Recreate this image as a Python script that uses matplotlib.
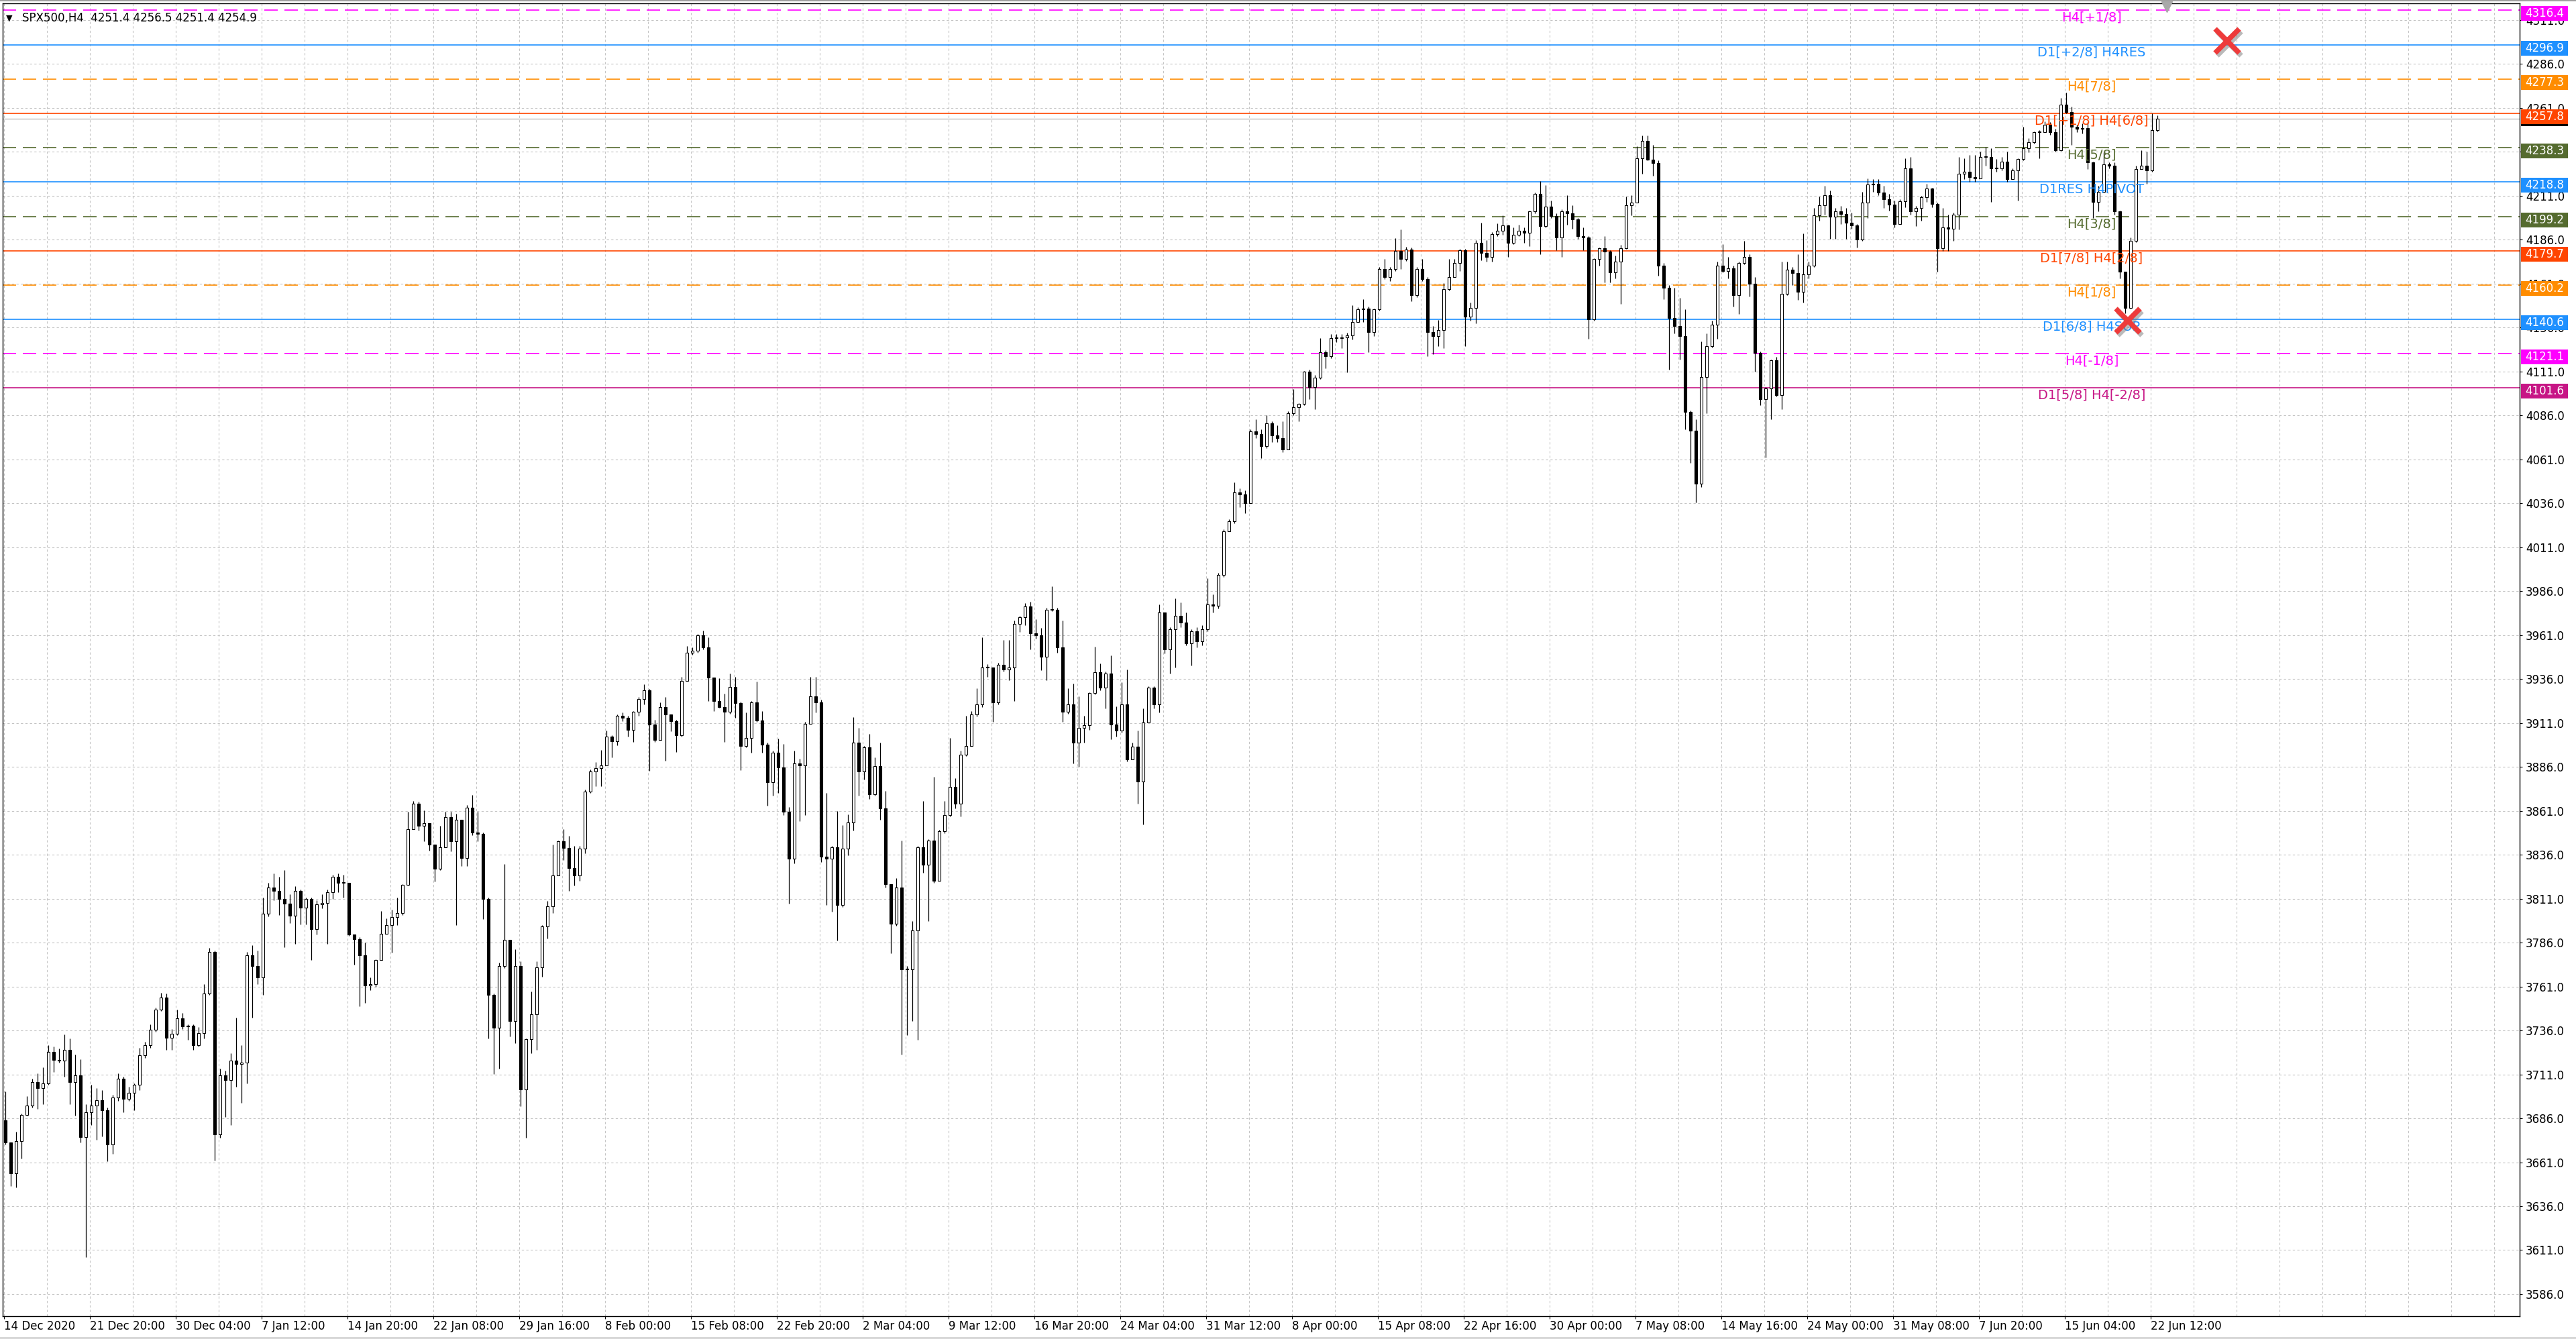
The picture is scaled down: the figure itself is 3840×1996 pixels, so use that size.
import matplotlib
matplotlib.use("Agg")
import matplotlib.pyplot as plt
import matplotlib.transforms as mtransforms
import matplotlib.patheffects as pe
from matplotlib.patches import Rectangle
import numpy as np

# SPX500 H4 chart, one candle here = two H4 bars
first_open = 3684.9

close = [
    3672.1, 3654.8, 3673.0, 3688.0, 3693.1, 3706.8, 3703.1, 3705.9, 3723.8, 3719.2,
    3718.7, 3725.0, 3706.8, 3710.4, 3675.2, 3689.5, 3693.1, 3696.2, 3690.4, 3671.2,
    3698.0, 3708.6, 3697.1, 3700.4, 3705.0, 3721.8, 3727.8, 3736.4, 3747.9, 3754.8,
    3731.8, 3734.2, 3742.7, 3738.2, 3738.7, 3727.8, 3734.5, 3757.0, 3780.7, 3676.7,
    3710.4, 3707.7, 3718.7, 3716.8, 3717.7, 3778.9, 3772.5, 3766.1, 3802.6, 3817.2,
    3815.4, 3810.8, 3808.1, 3801.1, 3815.4, 3805.7, 3810.8, 3793.5, 3807.7, 3808.4,
    3814.5, 3823.6, 3819.9, 3819.9, 3790.7, 3788.0, 3778.9, 3761.5, 3762.4, 3776.1,
    3791.1, 3796.0, 3800.4, 3802.8, 3818.8, 3850.5, 3865.2, 3852.5, 3854.0, 3841.8,
    3828.1, 3840.2, 3857.4, 3843.7, 3855.8, 3834.0, 3862.6, 3848.6, 3848.0, 3811.0,
    3756.4, 3737.5, 3772.6, 3787.6, 3741.4, 3772.6, 3702.4, 3731.1, 3745.3, 3772.0,
    3795.0, 3806.7, 3824.2, 3843.7, 3839.8, 3828.5, 3824.2, 3839.4, 3872.0, 3883.3,
    3885.2, 3886.6, 3903.2, 3900.6, 3914.9, 3913.9, 3907.1, 3917.4, 3924.6, 3929.5,
    3910.0, 3901.2, 3920.1, 3915.8, 3911.9, 3904.1, 3934.9, 3950.9, 3952.1, 3960.7,
    3953.8, 3936.9, 3923.6, 3920.1, 3917.4, 3931.4, 3922.1, 3897.8, 3902.4, 3922.5,
    3912.5, 3898.7, 3877.2, 3894.2, 3885.6, 3860.3, 3833.8, 3887.8, 3886.8, 3910.6,
    3926.2, 3922.5, 3834.7, 3833.8, 3840.2, 3807.3, 3839.3, 3854.3, 3899.6, 3883.2,
    3896.9, 3870.4, 3886.5, 3862.2, 3819.2, 3796.7, 3817.3, 3770.7, 3770.7, 3793.0,
    3840.2, 3830.2, 3843.9, 3821.0, 3849.4, 3858.5, 3874.6, 3864.9, 3892.7, 3897.8,
    3915.7, 3921.6, 3942.6, 3942.6, 3922.5, 3944.1, 3941.2, 3942.6, 3967.3, 3971.0,
    3977.4, 3961.8, 3960.9, 3948.5, 3975.2, 3975.5, 3954.0, 3917.4, 3921.6, 3899.6,
    3908.2, 3909.7, 3928.0, 3939.9, 3930.9, 3939.0, 3910.0, 3906.6, 3921.6, 3890.3,
    3897.3, 3877.6, 3911.2, 3930.9, 3921.6, 3973.7, 3952.9, 3964.4, 3971.8, 3967.9,
    3956.3, 3963.3, 3957.5, 3964.4, 3978.3, 3977.6, 3995.0, 4020.0, 4025.8, 4042.0,
    4040.8, 4036.2, 4076.7, 4075.5, 4068.6, 4081.3, 4074.4, 4073.2, 4066.7, 4087.1,
    4090.6, 4092.4, 4110.7, 4102.2, 4107.5, 4121.8, 4119.5, 4130.0, 4130.0, 4130.4,
    4131.6, 4139.2, 4146.2, 4146.8, 4133.4, 4146.2, 4169.3, 4164.7, 4169.3, 4179.7,
    4175.1, 4180.2, 4154.3, 4169.3, 4163.5, 4133.4, 4131.1, 4134.6, 4157.7, 4164.7,
    4172.8, 4179.9, 4142.0, 4147.1, 4184.3, 4178.4, 4176.3, 4189.1, 4191.1, 4194.0,
    4184.3, 4188.6, 4191.1, 4189.7, 4202.2, 4212.0, 4193.7, 4204.7, 4199.3, 4187.2,
    4202.2, 4201.0, 4197.4, 4187.9, 4187.2, 4140.5, 4174.8, 4180.9, 4179.2, 4167.5,
    4173.3, 4180.9, 4205.4, 4206.9, 4232.1, 4242.1, 4231.6, 4229.5, 4171.1, 4158.7,
    4141.3, 4136.9, 4131.1, 4088.1, 4077.1, 4047.2, 4107.7, 4125.2, 4137.6, 4171.1,
    4168.2, 4169.7, 4154.4, 4172.6, 4176.3, 4160.9, 4121.6, 4095.3, 4101.2, 4117.2,
    4097.5, 4155.1, 4169.0, 4166.8, 4156.1, 4166.0, 4171.1, 4199.6, 4205.4, 4211.4,
    4198.9, 4201.9, 4200.6, 4195.5, 4194.2, 4186.0, 4206.9, 4217.5, 4217.8, 4212.7,
    4208.9, 4205.7, 4194.9, 4207.8, 4226.6, 4201.9, 4203.8, 4210.1, 4215.0, 4206.3,
    4180.9, 4193.0, 4192.3, 4200.0, 4223.5, 4224.7, 4221.6, 4220.9, 4233.0, 4233.0,
    4226.6, 4226.6, 4230.5, 4220.3, 4225.4, 4231.7, 4238.1, 4241.3, 4247.2, 4247.2,
    4251.4, 4247.0, 4236.8, 4262.9, 4258.4, 4250.1, 4248.9, 4249.3, 4229.8, 4207.6,
    4213.3, 4228.6, 4227.9, 4201.9, 4167.6, 4147.2, 4185.3, 4226.0, 4227.9, 4225.4,
    4248.2, 4254.9,
]

high = [
    3701.3, 3672.1, 3678.5, 3688.5, 3698.6, 3708.6, 3711.4, 3715.0, 3727.8, 3726.9,
    3725.6, 3733.6, 3731.4, 3722.3, 3719.6, 3694.0, 3705.0, 3703.1, 3702.2, 3692.2,
    3699.5, 3711.4, 3709.5, 3704.1, 3705.9, 3726.0, 3729.6, 3739.6, 3749.0, 3757.3,
    3757.0, 3736.9, 3747.9, 3746.0, 3739.6, 3739.6, 3737.8, 3762.5, 3782.9, 3781.6,
    3714.1, 3713.2, 3723.2, 3743.3, 3727.8, 3780.7, 3784.3, 3781.6, 3811.7, 3819.9,
    3825.4, 3823.6, 3827.2, 3813.6, 3818.1, 3816.3, 3811.7, 3811.7, 3809.9, 3813.6,
    3816.3, 3824.5, 3825.4, 3824.5, 3819.9, 3790.7, 3788.9, 3786.2, 3766.1, 3776.5,
    3803.8, 3799.9, 3804.7, 3811.6, 3819.4, 3860.3, 3866.7, 3866.1, 3861.3, 3853.5,
    3841.8, 3852.5, 3860.3, 3860.3, 3859.3, 3855.4, 3864.2, 3870.0, 3860.3, 3848.6,
    3811.6, 3757.0, 3774.5, 3830.5, 3783.3, 3782.3, 3775.5, 3731.6, 3758.0, 3775.5,
    3796.0, 3809.6, 3841.8, 3844.1, 3850.5, 3846.6, 3840.8, 3840.8, 3873.0, 3884.6,
    3888.5, 3895.4, 3906.5, 3904.1, 3915.8, 3916.8, 3914.9, 3917.8, 3925.6, 3933.0,
    3930.4, 3912.9, 3922.7, 3925.6, 3913.9, 3912.9, 3937.3, 3954.8, 3953.8, 3961.6,
    3963.6, 3959.7, 3936.9, 3936.3, 3927.5, 3939.2, 3937.3, 3922.9, 3917.0, 3923.4,
    3934.4, 3917.6, 3899.6, 3895.1, 3902.0, 3899.1, 3863.1, 3895.1, 3890.5, 3911.5,
    3937.1, 3937.1, 3924.3, 3871.3, 3841.1, 3860.7, 3853.0, 3859.0, 3914.3, 3908.2,
    3897.8, 3904.6, 3891.4, 3899.6, 3872.2, 3819.2, 3822.8, 3843.9, 3772.5, 3798.1,
    3841.1, 3866.7, 3844.8, 3880.4, 3850.3, 3866.7, 3902.4, 3879.5, 3895.1, 3915.2,
    3917.6, 3930.7, 3959.5, 3944.5, 3939.9, 3945.0, 3958.2, 3958.2, 3969.2, 3971.9,
    3979.2, 3980.1, 3970.1, 3964.9, 3976.5, 3988.7, 3976.5, 3969.2, 3930.7, 3933.5,
    3926.2, 3915.2, 3928.4, 3954.5, 3944.7, 3940.1, 3949.4, 3920.4, 3934.3, 3941.3,
    3899.6, 3906.5, 3919.3, 3932.0, 3932.0, 3978.3, 3969.1, 3965.6, 3981.8, 3979.5,
    3973.7, 3964.4, 3965.6, 3966.7, 3993.4, 3984.1, 3996.4, 4021.1, 4026.9, 4047.8,
    4044.3, 4043.1, 4077.9, 4083.6, 4077.9, 4086.0, 4082.5, 4080.2, 4082.5, 4088.3,
    4101.0, 4092.9, 4111.4, 4112.1, 4109.1, 4130.0, 4123.0, 4132.3, 4132.3, 4132.3,
    4133.0, 4148.5, 4147.3, 4151.9, 4147.8, 4146.8, 4170.5, 4175.1, 4170.5, 4186.7,
    4191.8, 4182.0, 4181.6, 4170.5, 4175.1, 4164.7, 4136.9, 4140.4, 4161.2, 4175.1,
    4175.1, 4180.6, 4180.6, 4150.0, 4185.7, 4195.6, 4185.7, 4190.1, 4195.2, 4199.6,
    4194.5, 4193.0, 4194.5, 4193.0, 4202.5, 4212.7, 4219.3, 4217.1, 4208.3, 4201.0,
    4203.2, 4211.2, 4205.4, 4198.1, 4193.0, 4187.9, 4175.5, 4181.4, 4187.9, 4179.9,
    4177.0, 4182.8, 4210.5, 4211.2, 4239.2, 4245.1, 4245.1, 4239.7, 4230.9, 4172.6,
    4160.2, 4158.7, 4152.9, 4146.4, 4088.8, 4083.7, 4128.1, 4132.5, 4139.8, 4173.3,
    4183.5, 4176.3, 4171.1, 4173.3, 4185.3, 4177.7, 4164.6, 4122.3, 4101.9, 4117.9,
    4119.4, 4173.3, 4173.3, 4170.4, 4177.7, 4189.4, 4173.3, 4204.0, 4210.5, 4216.5,
    4213.9, 4203.8, 4205.0, 4203.8, 4201.2, 4194.9, 4213.3, 4220.9, 4220.3, 4220.3,
    4216.5, 4212.0, 4208.2, 4208.9, 4232.4, 4233.0, 4205.0, 4210.8, 4217.8, 4215.5,
    4207.0, 4203.8, 4200.0, 4201.2, 4233.0, 4232.4, 4234.3, 4234.3, 4236.2, 4238.7,
    4238.1, 4231.7, 4233.0, 4236.2, 4226.6, 4232.4, 4250.1, 4243.8, 4247.6, 4248.2,
    4253.3, 4252.7, 4248.9, 4266.7, 4269.8, 4261.6, 4251.4, 4252.0, 4252.7, 4230.5,
    4216.5, 4235.5, 4229.8, 4229.8, 4202.5, 4165.7, 4187.3, 4227.9, 4236.8, 4236.2,
    4257.8, 4256.5,
]

low = [
    3671.2, 3647.5, 3646.6, 3663.0, 3687.6, 3692.2, 3691.3, 3694.0, 3705.0, 3712.3,
    3717.7, 3709.5, 3694.0, 3687.6, 3672.1, 3606.8, 3682.2, 3673.9, 3675.8, 3661.5,
    3665.7, 3695.8, 3689.5, 3695.8, 3690.4, 3702.2, 3720.5, 3726.0, 3735.1, 3746.9,
    3725.0, 3725.0, 3733.3, 3736.9, 3730.5, 3725.0, 3726.9, 3731.4, 3756.1, 3662.1,
    3674.9, 3686.7, 3682.2, 3704.1, 3694.9, 3705.9, 3743.3, 3762.5, 3756.1, 3800.8,
    3809.9, 3801.7, 3783.4, 3797.1, 3785.3, 3796.2, 3796.2, 3776.1, 3790.7, 3805.3,
    3785.3, 3810.8, 3814.5, 3811.7, 3789.8, 3773.4, 3749.7, 3751.5, 3758.8, 3760.9,
    3779.4, 3791.1, 3780.4, 3796.0, 3801.8, 3818.4, 3853.5, 3849.6, 3843.7, 3838.3,
    3820.7, 3827.1, 3843.7, 3837.9, 3796.0, 3829.7, 3829.7, 3847.2, 3843.7, 3799.3,
    3731.6, 3711.2, 3714.1, 3771.6, 3732.6, 3728.7, 3692.7, 3675.1, 3722.9, 3724.8,
    3766.7, 3788.2, 3802.8, 3824.2, 3833.0, 3815.5, 3818.4, 3821.3, 3836.9, 3871.0,
    3874.9, 3874.9, 3892.4, 3891.5, 3898.3, 3911.9, 3903.2, 3900.2, 3914.9, 3921.7,
    3883.7, 3900.2, 3901.2, 3889.5, 3906.1, 3894.4, 3903.2, 3940.2, 3949.9, 3950.9,
    3952.9, 3923.6, 3917.8, 3919.7, 3900.2, 3916.2, 3913.9, 3884.1, 3896.9, 3894.2,
    3911.5, 3894.2, 3864.0, 3869.5, 3871.3, 3858.5, 3808.2, 3831.1, 3855.2, 3858.5,
    3910.6, 3917.0, 3832.0, 3807.3, 3803.6, 3787.2, 3806.4, 3835.6, 3849.7, 3869.5,
    3878.6, 3867.6, 3869.5, 3855.7, 3817.3, 3779.9, 3795.4, 3722.2, 3733.2, 3741.4,
    3730.5, 3825.6, 3798.1, 3820.1, 3826.5, 3848.4, 3857.6, 3862.2, 3857.6, 3892.3,
    3904.2, 3914.8, 3919.8, 3937.1, 3911.5, 3921.6, 3940.4, 3935.3, 3923.4, 3962.8,
    3966.4, 3952.7, 3959.1, 3940.8, 3935.3, 3974.6, 3950.9, 3911.5, 3916.1, 3887.8,
    3885.9, 3899.6, 3907.0, 3927.1, 3929.7, 3919.3, 3901.5, 3903.1, 3905.4, 3889.2,
    3892.7, 3864.9, 3853.3, 3912.3, 3919.3, 3917.0, 3950.5, 3939.0, 3942.4, 3965.6,
    3955.2, 3943.6, 3954.0, 3955.2, 3963.3, 3973.7, 3976.0, 3994.1, 4022.3, 4024.6,
    4033.9, 4030.4, 4036.2, 4073.2, 4061.7, 4067.4, 4070.9, 4070.9, 4065.1, 4072.1,
    4086.0, 4082.5, 4091.8, 4095.2, 4089.4, 4106.8, 4112.6, 4118.4, 4127.6, 4124.2,
    4110.3, 4129.3, 4139.2, 4139.2, 4121.8, 4131.1, 4145.5, 4163.5, 4162.4, 4168.1,
    4169.3, 4173.9, 4150.8, 4153.1, 4162.4, 4119.5, 4120.7, 4125.3, 4124.2, 4157.0,
    4164.7, 4168.2, 4125.2, 4139.8, 4138.4, 4174.1, 4173.3, 4173.3, 4187.9, 4188.6,
    4176.3, 4183.5, 4187.9, 4184.3, 4182.1, 4201.0, 4177.7, 4193.0, 4198.1, 4179.9,
    4176.3, 4194.5, 4192.3, 4186.5, 4179.9, 4129.6, 4139.8, 4171.1, 4161.7, 4161.7,
    4163.9, 4149.3, 4180.6, 4199.6, 4206.9, 4223.6, 4230.9, 4222.2, 4165.3, 4152.2,
    4112.1, 4132.5, 4117.9, 4077.9, 4058.9, 4036.3, 4045.1, 4087.3, 4124.5, 4129.6,
    4167.5, 4163.9, 4147.8, 4143.5, 4171.9, 4153.7, 4110.7, 4091.7, 4061.8, 4083.7,
    4096.8, 4089.5, 4154.4, 4160.2, 4151.5, 4150.0, 4163.9, 4170.4, 4196.7, 4200.0,
    4186.6, 4186.6, 4194.9, 4186.6, 4192.3, 4181.5, 4185.3, 4198.1, 4213.3, 4211.4,
    4203.8, 4202.5, 4193.0, 4200.0, 4204.4, 4200.0, 4193.6, 4196.8, 4207.6, 4204.4,
    4167.6, 4179.6, 4179.6, 4185.3, 4191.7, 4220.3, 4219.0, 4219.0, 4226.6, 4227.9,
    4207.6, 4224.7, 4225.4, 4219.0, 4222.8, 4208.2, 4231.1, 4235.5, 4240.6, 4232.4,
    4247.0, 4245.7, 4236.2, 4236.6, 4257.8, 4240.0, 4247.0, 4246.3, 4226.0, 4198.1,
    4201.9, 4212.7, 4226.6, 4200.0, 4163.8, 4144.1, 4146.6, 4184.7, 4226.6, 4217.8,
    4224.7, 4247.6,
]

# time axis labels, one every 16 candles
date_labels = [
    "14 Dec 2020", "21 Dec 20:00", "30 Dec 04:00", "7 Jan 12:00", "14 Jan 20:00",
    "22 Jan 08:00", "29 Jan 16:00", "8 Feb 00:00", "15 Feb 08:00", "22 Feb 20:00",
    "2 Mar 04:00", "9 Mar 12:00", "16 Mar 20:00", "24 Mar 04:00", "31 Mar 12:00",
    "8 Apr 00:00", "15 Apr 08:00", "22 Apr 16:00", "30 Apr 00:00", "7 May 08:00",
    "14 May 16:00", "24 May 00:00", "31 May 08:00", "7 Jun 20:00", "15 Jun 04:00",
    "22 Jun 12:00",
]

# Murrey Math levels
level_prices = [4316.4, 4296.9, 4277.3, 4257.8, 4238.3, 4218.8,
                4199.2, 4179.7, 4160.2, 4140.6, 4121.1, 4101.6]
level_names = ["H4[+1/8]", "D1[+2/8] H4RES", "H4[7/8]", "D1[+1/8] H4[6/8]",
               "H4[5/8]", "D1RES H4PIVOT", "H4[3/8]", "D1[7/8] H4[2/8]",
               "H4[1/8]", "D1[6/8] H4SUP", "H4[-1/8]", "D1[5/8] H4[-2/8]"]
level_colors = ["#FF00FF", "#1E90FF", "#FF8C00", "#FF4500", "#556B2F", "#1E90FF",
                "#556B2F", "#FF4500", "#FF8C00", "#1E90FF", "#FF00FF", "#C71585"]
level_dashed = [True, False, True, False, True, False,
                True, False, True, False, True, False]

last_price = 4254.9
title_text = "SPX500,H4  4251.4 4256.5 4251.4 4254.9"

# red crosses drawn on the chart
cross_x = [414.0, 395.5]
cross_y = [4299.0, 4139.8]

assert len(close) == len(high) == len(low)

W, H = 3840, 1996
fig = plt.figure(figsize=(W / 100, H / 100), dpi=100)
fig.patch.set_facecolor("white")

# chart area in pixels: x 3.5..3756, y 5..1962
ax = fig.add_axes([3.5 / W, (H - 1962) / H, (3756 - 3.5) / W, (1962 - 5) / H])
y_lo, y_hi = 3573.4, 4320.4
ax.set_xlim(-0.5625, 468.5)
ax.set_ylim(y_lo, y_hi)
ax.set_facecolor("white")

n = len(close)
x = np.arange(n)
c = np.array(close)
o = np.array([first_open] + close[:-1])
hi = np.maximum(np.array(high), np.maximum(o, c))
lo = np.minimum(np.array(low), np.minimum(o, c))

# grid
grid_kw = dict(color="#C4C4C4", lw=0.8, ls=(0, (3, 3)), zorder=0)
price_ticks = np.arange(3586.0, 4320.0, 25.0)
for p in price_ticks:
    ax.axhline(p, **grid_kw)
for gx in np.arange(-0.25, 468, 8):
    ax.axvline(gx, **grid_kw)

# levels
for p, col, dashed in zip(level_prices, level_colors, level_dashed):
    ax.axhline(p, color=col, lw=1.2, ls=(0, (12, 6)) if dashed else "-", zorder=1)
ax.axhline(last_price, color="#BDBDBD", lw=1.0, zorder=1)

# candles
ax.vlines(x, lo, hi, color="black", lw=0.9, zorder=2)
bottom = np.minimum(o, c)
height = np.maximum(np.abs(c - o), 0.4)
bull = c >= o
ax.bar(x[bull], height[bull], bottom=bottom[bull], width=0.62,
       color="white", edgecolor="black", linewidth=0.8, zorder=3)
ax.bar(x[~bull], height[~bull], bottom=bottom[~bull], width=0.62,
       color="black", edgecolor="black", linewidth=0.8, zorder=3)

# level labels on the chart
for p, name, col in zip(level_prices, level_names, level_colors):
    ax.text(388.75, p - 4.2, name, color=col, fontsize=14,
            ha="center", va="center", zorder=5)

# crosses
ax.plot(cross_x, cross_y, ls="none", marker="x", ms=26, mew=5.5,
        color="#EE3B3B", zorder=6, clip_on=False,
        path_effects=[pe.SimpleLineShadow(offset=(2, -3), shadow_color="#777777", alpha=0.5),
                      pe.Normal()])

# chart shift marker
ax.plot([402.75], [y_hi - 1.9], marker="v", ms=11, color="#A8A8A8",
        zorder=6, clip_on=False)

# axes / ticks
for s in ax.spines.values():
    s.set_color("black")
    s.set_linewidth(1.0)
ax.yaxis.tick_right()
ax.set_yticks(price_ticks)
ax.set_yticklabels([f"{p:.1f}" for p in price_ticks])
ax.tick_params(axis="y", direction="out", length=3, width=0.8, pad=3.5,
               labelsize=12, colors="black")
tick_x = np.arange(len(date_labels)) * 16 - 0.25
ax.set_xticks(tick_x)
ax.set_xticklabels(date_labels)
for lab in ax.get_xticklabels():
    lab.set_ha("left")
ax.tick_params(axis="x", direction="out", length=3, width=0.8, pad=1.5,
               labelsize=12, colors="black")

# price boxes on the right scale
trans = mtransforms.blended_transform_factory(ax.transAxes, ax.transData)
box_x = 1 + 2 / 3752.5
box_w = 70 / 3752.5
box_h = 22 / 2.62


def price_box(p, col, off, z):
    yc = p - off
    ax.add_patch(Rectangle((box_x, yc - box_h / 2), box_w, box_h, transform=trans,
                           facecolor=col, edgecolor="none", clip_on=False, zorder=z))
    ax.text(box_x + box_w / 2, yc, f"{p:.1f}", transform=trans, color="white",
            fontsize=12, ha="center", va="center", clip_on=False, zorder=z + 0.5)


# current price box sits under the level boxes, centred on its line
price_box(last_price, "black", 0.0, 8)
for p, col in zip(level_prices, level_colors):
    price_box(p, col, 5 / 2.62, 10)

# title
fig.text(9 / W, 1 - 27 / H, "\u25bc", fontsize=9, va="center", color="black")
fig.text(33 / W, 1 - 27 / H, title_text, fontsize=12, va="center", color="black")

# window frame bits
fig.add_artist(Rectangle((0, 1 - 2 / H), 1, 2 / H, transform=fig.transFigure,
                         facecolor="#A0A0A0", edgecolor="none"))
fig.add_artist(Rectangle((0, 0), 1, 3 / H, transform=fig.transFigure,
                         facecolor="#D8D8D8", edgecolor="none"))

fig.savefig("out.png", dpi=100, facecolor="white")
